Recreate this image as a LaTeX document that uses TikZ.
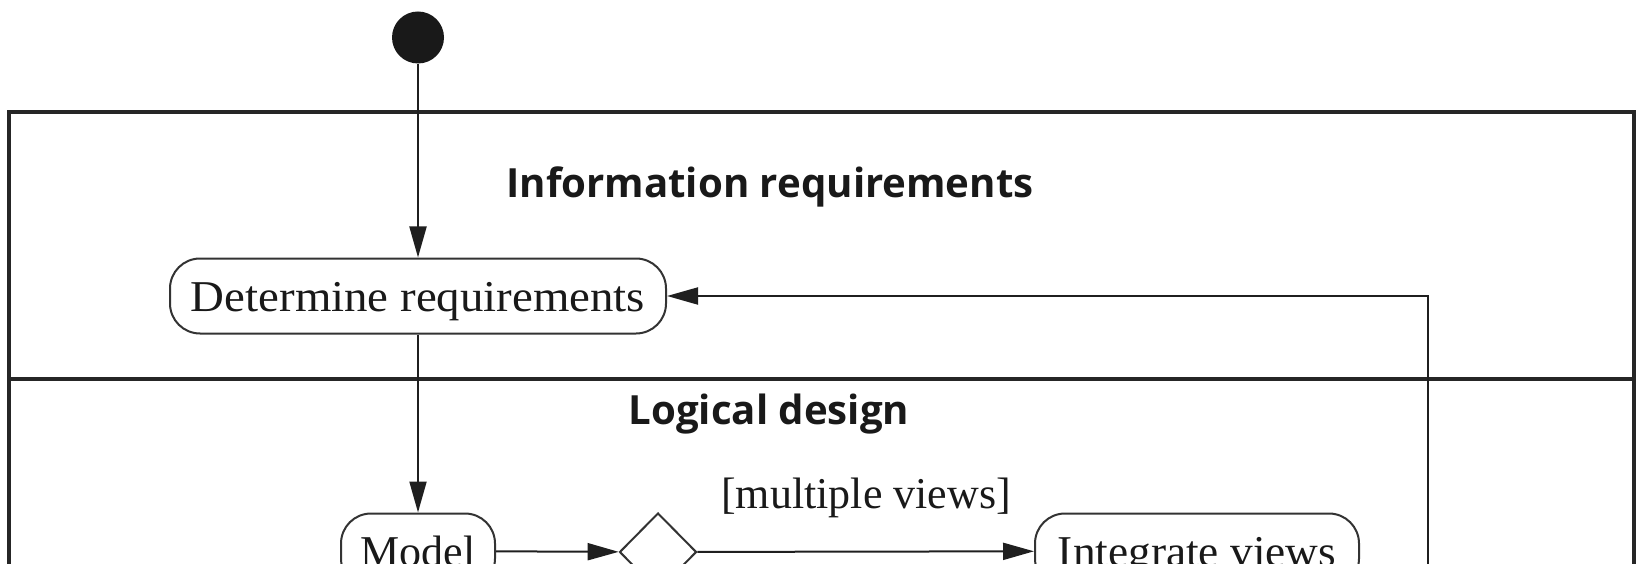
\documentclass[tikz,border=0pt]{standalone}
\usepackage{fontspec}
\setmainfont{Liberation Serif}
\newfontfamily\headfont{Open Sans}
\usetikzlibrary{shapes.geometric,arrows.meta}

\begin{document}
\begin{tikzpicture}[x=1pt,y=-1pt,
  activity/.style={draw=black!80, line width=2pt, rounded corners=30pt,
    minimum height=75pt, inner sep=0pt, text height=30pt, text depth=0pt,
    font=\fontsize{44}{50}\selectfont, text=black!90},
  decision/.style={draw=black!80, line width=2pt, diamond,
    minimum width=77pt, minimum height=78pt, inner sep=0pt},
  flow/.style={draw=black!88, line width=2pt,
    -{Triangle[length=31pt,width=17pt]}},
  lane/.style={draw=black!85, line width=4pt},
  lanetitle/.style={anchor=base, inner sep=0pt, text=black!90,
    font=\headfont\bfseries\fontsize{40.2}{44}\selectfont},
  guard/.style={anchor=base, inner sep=0pt, text=black!90,
    font=\fontsize{44}{50}\selectfont}
]
\useasboundingbox (0,0) rectangle (1638,564);
\clip (0,0) rectangle (1638,564);

% swimlane frame and divider
\draw[lane] (9,112) rectangle (1634,760);
\draw[lane] (9,379) -- (1634,379);

% lane titles
\node[lanetitle] (lane1) at (770,198) {Information requirements};
\node[lanetitle] (lane2) at (769,424) {Logical design};

% initial state
\node[circle, fill=black!90, minimum size=52pt, inner sep=0pt] (start) at (418,37.5) {};

% activities
\node[activity, minimum width=496pt] (req) at (418,296)
  {\scalebox{1.065}[1]{Determine requirements}};
\node[activity, minimum width=154pt] (model) at (418,551) {Model};
\node[decision] (dec) at (658,552) {};
\node[activity, minimum width=324pt] (integ) at (1197,551)
  {\scalebox{1.03}[1]{Integrate views}};
\node[guard] (mv) at (866,508) {[multiple views]};

% flows
\draw[flow] (start) -- (req);
\draw[flow] (req) -- (model);
\draw[flow] (model) -- (dec);
\draw[flow] (dec) -- (integ);
\coordinate (back) at (1428,760);
\draw[flow] (back) |- (req.east);
\end{tikzpicture}
\end{document}
